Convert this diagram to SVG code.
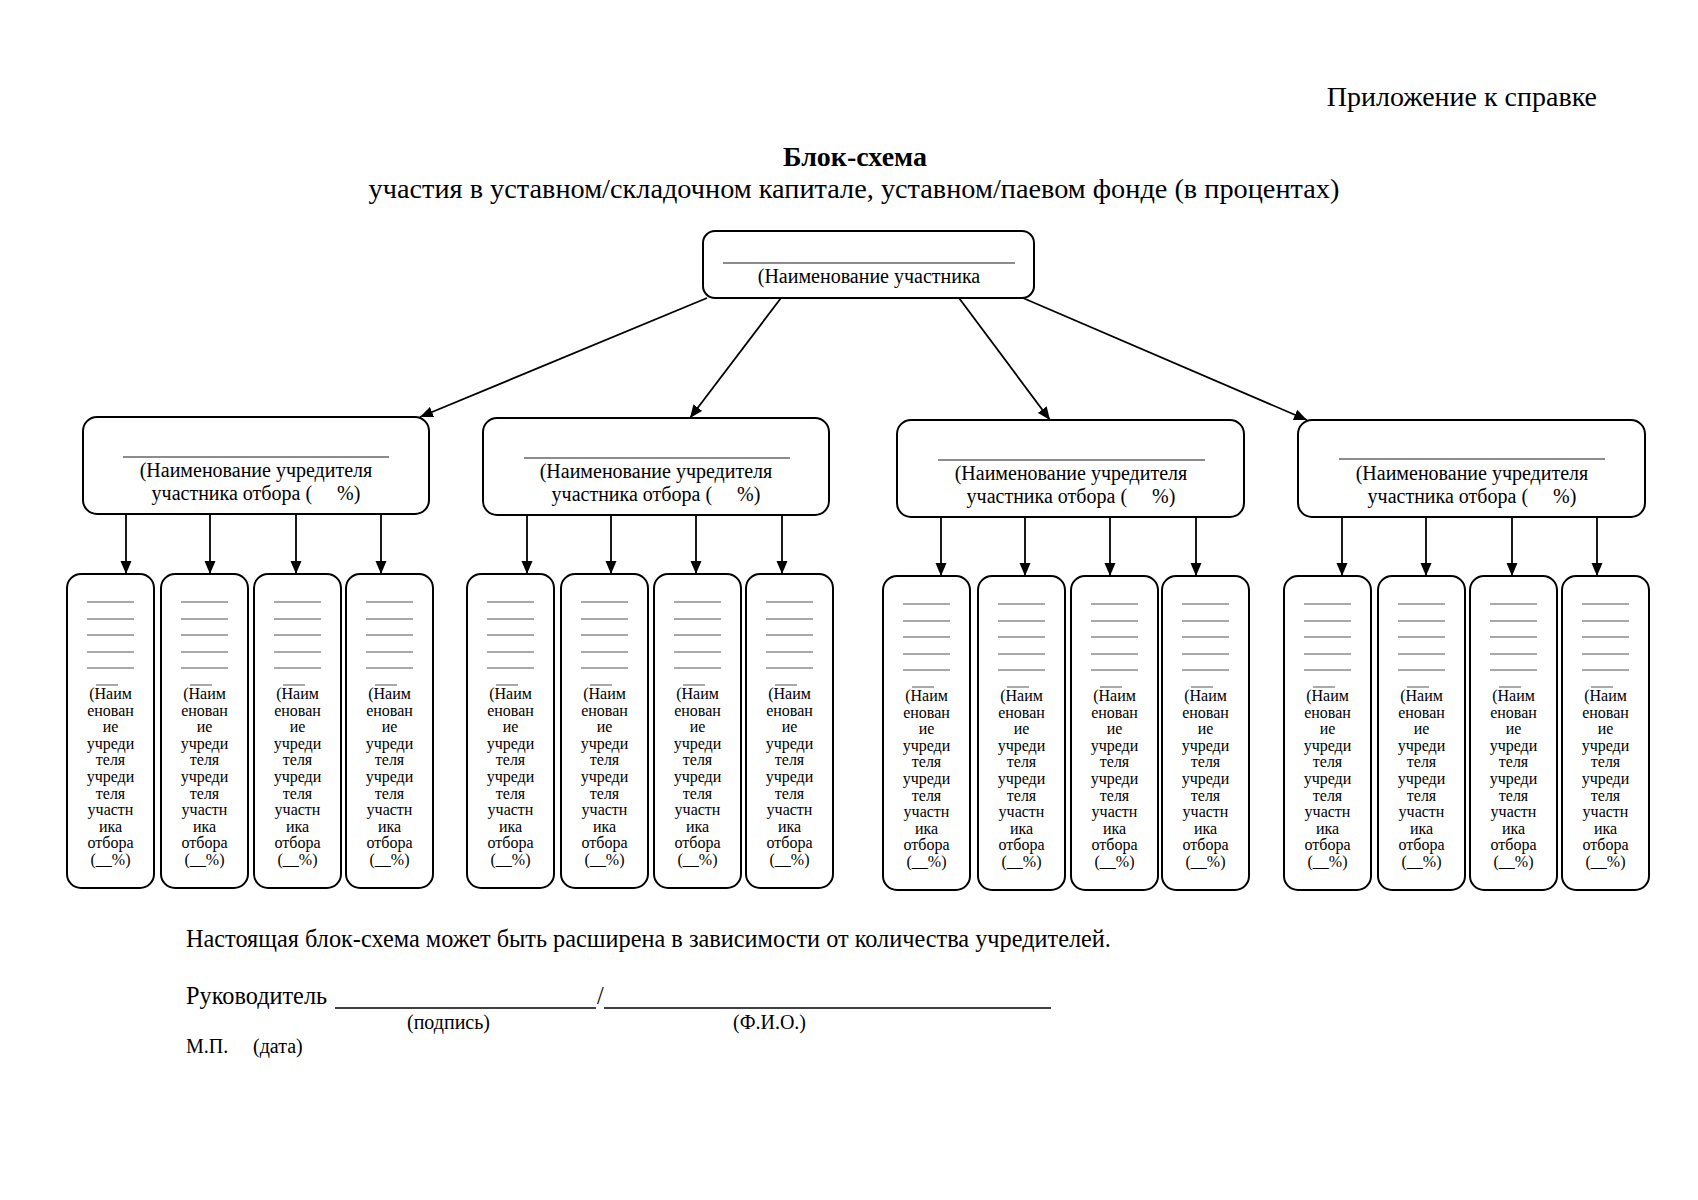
<svg xmlns="http://www.w3.org/2000/svg" width="1698" height="1200" viewBox="0 0 1698 1200">
<style>
text{font-family:"Liberation Serif","Times New Roman",serif;fill:#000}
.box{fill:#fff;stroke:#000;stroke-width:2}
.ln{stroke:#555;stroke-width:1.2;fill:none}
.ul{stroke:#666;stroke-width:1.6}
.mid{font-size:20px;text-anchor:middle}
.leaf{font-size:16px;text-anchor:middle}
.con{stroke:#000;stroke-width:1.8;fill:none;marker-end:url(#ah)}
.doc{font-size:24.3px}
.sm{font-size:20px}
</style>
<defs>
<marker id="ah" markerUnits="userSpaceOnUse" markerWidth="13" markerHeight="12" viewBox="0 0 13 12" refX="13" refY="6" orient="auto">
<path d="M0,0.5 L13,6 L0,11.5 z" fill="#000"/>
</marker>
</defs>
<rect width="1698" height="1200" fill="#fff"/>

<text x="1597" y="106" font-size="28" text-anchor="end">Приложение к справке</text>
<text x="855" y="166" font-size="28" font-weight="bold" text-anchor="middle">Блок-схема</text>
<text x="854" y="198" font-size="28.3" text-anchor="middle">участия в уставном/складочном капитале, уставном/паевом фонде (в процентах)</text>

<g id="connectors">
<line class="con" x1="707" y1="298" x2="420" y2="417"/>
<line class="con" x1="781" y1="298" x2="690" y2="418"/>
<line class="con" x1="959" y1="298" x2="1050" y2="420"/>
<line class="con" x1="1023" y1="298" x2="1307" y2="420"/>
<line class="con" x1="126" y1="514" x2="126" y2="574"/>
<line class="con" x1="210" y1="514" x2="210" y2="574"/>
<line class="con" x1="296" y1="514" x2="296" y2="574"/>
<line class="con" x1="381" y1="514" x2="381" y2="574"/>
<line class="con" x1="527" y1="515" x2="527" y2="574"/>
<line class="con" x1="611" y1="515" x2="611" y2="574"/>
<line class="con" x1="696" y1="515" x2="696" y2="574"/>
<line class="con" x1="782" y1="515" x2="782" y2="574"/>
<line class="con" x1="941" y1="517" x2="941" y2="576"/>
<line class="con" x1="1025" y1="517" x2="1025" y2="576"/>
<line class="con" x1="1110" y1="517" x2="1110" y2="576"/>
<line class="con" x1="1196" y1="517" x2="1196" y2="576"/>
<line class="con" x1="1342" y1="517" x2="1342" y2="576"/>
<line class="con" x1="1426" y1="517" x2="1426" y2="576"/>
<line class="con" x1="1512" y1="517" x2="1512" y2="576"/>
<line class="con" x1="1597" y1="517" x2="1597" y2="576"/>
</g>

<g id="participant">
<rect class="box" x="703" y="231" width="331" height="67" rx="12"/>
<line class="ul" x1="723" y1="263" x2="1015" y2="263" stroke="#888" stroke-width="2"/>
<text class="mid" x="869" y="283">(Наименование участника</text>
</g>

<g id="founder-1">
<rect class="box" x="83" y="417" width="346" height="97" rx="14"/>
<line class="ul" x1="123" y1="457" x2="389" y2="457"/>
<text class="mid" x="256" y="477">(Наименование учредителя</text>
<text class="mid" x="256" y="500">участника отбора (&#160;&#160;&#160;&#160;&#160;%)</text>
</g>
<g id="founder-2">
<rect class="box" x="483" y="418" width="346" height="97" rx="14"/>
<line class="ul" x1="524" y1="458" x2="790" y2="458"/>
<text class="mid" x="656" y="478">(Наименование учредителя</text>
<text class="mid" x="656" y="501">участника отбора (&#160;&#160;&#160;&#160;&#160;%)</text>
</g>
<g id="founder-3">
<rect class="box" x="897" y="420" width="347" height="97" rx="14"/>
<line class="ul" x1="938" y1="460" x2="1205" y2="460"/>
<text class="mid" x="1071" y="480">(Наименование учредителя</text>
<text class="mid" x="1071" y="503">участника отбора (&#160;&#160;&#160;&#160;&#160;%)</text>
</g>
<g id="founder-4">
<rect class="box" x="1298" y="420" width="347" height="97" rx="14"/>
<line class="ul" x1="1339" y1="459" x2="1605" y2="459"/>
<text class="mid" x="1472" y="480">(Наименование учредителя</text>
<text class="mid" x="1472" y="503">участника отбора (&#160;&#160;&#160;&#160;&#160;%)</text>
</g>

<!-- group 1 leaves -->
<g id="leaf-1-1">
<rect class="box" x="67" y="574" width="87" height="314" rx="14"/>
<path class="ln" d="M87,602h47M87,619h47M87,635h47M87,652h47M87,668h47M96,685h22"/>
<text class="leaf" y="699"><tspan x="110.5">(Наим</tspan><tspan x="110.5" dy="16.6">енован</tspan><tspan x="110.5" dy="16.6">ие</tspan><tspan x="110.5" dy="16.6">учреди</tspan><tspan x="110.5" dy="16.6">теля</tspan><tspan x="110.5" dy="16.6">учреди</tspan><tspan x="110.5" dy="16.6">теля</tspan><tspan x="110.5" dy="16.6">участн</tspan><tspan x="110.5" dy="16.6">ика</tspan><tspan x="110.5" dy="16.6">отбора</tspan><tspan x="110.5" dy="16.6">(__%)</tspan></text>
</g>
<g id="leaf-1-2">
<rect class="box" x="161" y="574" width="87" height="314" rx="14"/>
<path class="ln" d="M181,602h47M181,619h47M181,635h47M181,652h47M181,668h47M190,685h22"/>
<text class="leaf" y="699"><tspan x="204.5">(Наим</tspan><tspan x="204.5" dy="16.6">енован</tspan><tspan x="204.5" dy="16.6">ие</tspan><tspan x="204.5" dy="16.6">учреди</tspan><tspan x="204.5" dy="16.6">теля</tspan><tspan x="204.5" dy="16.6">учреди</tspan><tspan x="204.5" dy="16.6">теля</tspan><tspan x="204.5" dy="16.6">участн</tspan><tspan x="204.5" dy="16.6">ика</tspan><tspan x="204.5" dy="16.6">отбора</tspan><tspan x="204.5" dy="16.6">(__%)</tspan></text>
</g>
<g id="leaf-1-3">
<rect class="box" x="254" y="574" width="87" height="314" rx="14"/>
<path class="ln" d="M274,602h47M274,619h47M274,635h47M274,652h47M274,668h47M283,685h22"/>
<text class="leaf" y="699"><tspan x="297.5">(Наим</tspan><tspan x="297.5" dy="16.6">енован</tspan><tspan x="297.5" dy="16.6">ие</tspan><tspan x="297.5" dy="16.6">учреди</tspan><tspan x="297.5" dy="16.6">теля</tspan><tspan x="297.5" dy="16.6">учреди</tspan><tspan x="297.5" dy="16.6">теля</tspan><tspan x="297.5" dy="16.6">участн</tspan><tspan x="297.5" dy="16.6">ика</tspan><tspan x="297.5" dy="16.6">отбора</tspan><tspan x="297.5" dy="16.6">(__%)</tspan></text>
</g>
<g id="leaf-1-4">
<rect class="box" x="346" y="574" width="87" height="314" rx="14"/>
<path class="ln" d="M366,602h47M366,619h47M366,635h47M366,652h47M366,668h47M375,685h22"/>
<text class="leaf" y="699"><tspan x="389.5">(Наим</tspan><tspan x="389.5" dy="16.6">енован</tspan><tspan x="389.5" dy="16.6">ие</tspan><tspan x="389.5" dy="16.6">учреди</tspan><tspan x="389.5" dy="16.6">теля</tspan><tspan x="389.5" dy="16.6">учреди</tspan><tspan x="389.5" dy="16.6">теля</tspan><tspan x="389.5" dy="16.6">участн</tspan><tspan x="389.5" dy="16.6">ика</tspan><tspan x="389.5" dy="16.6">отбора</tspan><tspan x="389.5" dy="16.6">(__%)</tspan></text>
</g>

<!-- group 2 leaves -->
<g id="leaf-2-1">
<rect class="box" x="467" y="574" width="87" height="314" rx="14"/>
<path class="ln" d="M487,602h47M487,619h47M487,635h47M487,652h47M487,668h47M496,685h22"/>
<text class="leaf" y="699"><tspan x="510.5">(Наим</tspan><tspan x="510.5" dy="16.6">енован</tspan><tspan x="510.5" dy="16.6">ие</tspan><tspan x="510.5" dy="16.6">учреди</tspan><tspan x="510.5" dy="16.6">теля</tspan><tspan x="510.5" dy="16.6">учреди</tspan><tspan x="510.5" dy="16.6">теля</tspan><tspan x="510.5" dy="16.6">участн</tspan><tspan x="510.5" dy="16.6">ика</tspan><tspan x="510.5" dy="16.6">отбора</tspan><tspan x="510.5" dy="16.6">(__%)</tspan></text>
</g>
<g id="leaf-2-2">
<rect class="box" x="561" y="574" width="87" height="314" rx="14"/>
<path class="ln" d="M581,602h47M581,619h47M581,635h47M581,652h47M581,668h47M590,685h22"/>
<text class="leaf" y="699"><tspan x="604.5">(Наим</tspan><tspan x="604.5" dy="16.6">енован</tspan><tspan x="604.5" dy="16.6">ие</tspan><tspan x="604.5" dy="16.6">учреди</tspan><tspan x="604.5" dy="16.6">теля</tspan><tspan x="604.5" dy="16.6">учреди</tspan><tspan x="604.5" dy="16.6">теля</tspan><tspan x="604.5" dy="16.6">участн</tspan><tspan x="604.5" dy="16.6">ика</tspan><tspan x="604.5" dy="16.6">отбора</tspan><tspan x="604.5" dy="16.6">(__%)</tspan></text>
</g>
<g id="leaf-2-3">
<rect class="box" x="654" y="574" width="87" height="314" rx="14"/>
<path class="ln" d="M674,602h47M674,619h47M674,635h47M674,652h47M674,668h47M683,685h22"/>
<text class="leaf" y="699"><tspan x="697.5">(Наим</tspan><tspan x="697.5" dy="16.6">енован</tspan><tspan x="697.5" dy="16.6">ие</tspan><tspan x="697.5" dy="16.6">учреди</tspan><tspan x="697.5" dy="16.6">теля</tspan><tspan x="697.5" dy="16.6">учреди</tspan><tspan x="697.5" dy="16.6">теля</tspan><tspan x="697.5" dy="16.6">участн</tspan><tspan x="697.5" dy="16.6">ика</tspan><tspan x="697.5" dy="16.6">отбора</tspan><tspan x="697.5" dy="16.6">(__%)</tspan></text>
</g>
<g id="leaf-2-4">
<rect class="box" x="746" y="574" width="87" height="314" rx="14"/>
<path class="ln" d="M766,602h47M766,619h47M766,635h47M766,652h47M766,668h47M775,685h22"/>
<text class="leaf" y="699"><tspan x="789.5">(Наим</tspan><tspan x="789.5" dy="16.6">енован</tspan><tspan x="789.5" dy="16.6">ие</tspan><tspan x="789.5" dy="16.6">учреди</tspan><tspan x="789.5" dy="16.6">теля</tspan><tspan x="789.5" dy="16.6">учреди</tspan><tspan x="789.5" dy="16.6">теля</tspan><tspan x="789.5" dy="16.6">участн</tspan><tspan x="789.5" dy="16.6">ика</tspan><tspan x="789.5" dy="16.6">отбора</tspan><tspan x="789.5" dy="16.6">(__%)</tspan></text>
</g>

<!-- group 3 leaves -->
<g id="leaf-3-1">
<rect class="box" x="883" y="576" width="87" height="314" rx="14"/>
<path class="ln" d="M903,604h47M903,621h47M903,637h47M903,654h47M903,670h47M912,687h22"/>
<text class="leaf" y="701"><tspan x="926.5">(Наим</tspan><tspan x="926.5" dy="16.6">енован</tspan><tspan x="926.5" dy="16.6">ие</tspan><tspan x="926.5" dy="16.6">учреди</tspan><tspan x="926.5" dy="16.6">теля</tspan><tspan x="926.5" dy="16.6">учреди</tspan><tspan x="926.5" dy="16.6">теля</tspan><tspan x="926.5" dy="16.6">участн</tspan><tspan x="926.5" dy="16.6">ика</tspan><tspan x="926.5" dy="16.6">отбора</tspan><tspan x="926.5" dy="16.6">(__%)</tspan></text>
</g>
<g id="leaf-3-2">
<rect class="box" x="978" y="576" width="87" height="314" rx="14"/>
<path class="ln" d="M998,604h47M998,621h47M998,637h47M998,654h47M998,670h47M1007,687h22"/>
<text class="leaf" y="701"><tspan x="1021.5">(Наим</tspan><tspan x="1021.5" dy="16.6">енован</tspan><tspan x="1021.5" dy="16.6">ие</tspan><tspan x="1021.5" dy="16.6">учреди</tspan><tspan x="1021.5" dy="16.6">теля</tspan><tspan x="1021.5" dy="16.6">учреди</tspan><tspan x="1021.5" dy="16.6">теля</tspan><tspan x="1021.5" dy="16.6">участн</tspan><tspan x="1021.5" dy="16.6">ика</tspan><tspan x="1021.5" dy="16.6">отбора</tspan><tspan x="1021.5" dy="16.6">(__%)</tspan></text>
</g>
<g id="leaf-3-3">
<rect class="box" x="1071" y="576" width="87" height="314" rx="14"/>
<path class="ln" d="M1091,604h47M1091,621h47M1091,637h47M1091,654h47M1091,670h47M1100,687h22"/>
<text class="leaf" y="701"><tspan x="1114.5">(Наим</tspan><tspan x="1114.5" dy="16.6">енован</tspan><tspan x="1114.5" dy="16.6">ие</tspan><tspan x="1114.5" dy="16.6">учреди</tspan><tspan x="1114.5" dy="16.6">теля</tspan><tspan x="1114.5" dy="16.6">учреди</tspan><tspan x="1114.5" dy="16.6">теля</tspan><tspan x="1114.5" dy="16.6">участн</tspan><tspan x="1114.5" dy="16.6">ика</tspan><tspan x="1114.5" dy="16.6">отбора</tspan><tspan x="1114.5" dy="16.6">(__%)</tspan></text>
</g>
<g id="leaf-3-4">
<rect class="box" x="1162" y="576" width="87" height="314" rx="14"/>
<path class="ln" d="M1182,604h47M1182,621h47M1182,637h47M1182,654h47M1182,670h47M1191,687h22"/>
<text class="leaf" y="701"><tspan x="1205.5">(Наим</tspan><tspan x="1205.5" dy="16.6">енован</tspan><tspan x="1205.5" dy="16.6">ие</tspan><tspan x="1205.5" dy="16.6">учреди</tspan><tspan x="1205.5" dy="16.6">теля</tspan><tspan x="1205.5" dy="16.6">учреди</tspan><tspan x="1205.5" dy="16.6">теля</tspan><tspan x="1205.5" dy="16.6">участн</tspan><tspan x="1205.5" dy="16.6">ика</tspan><tspan x="1205.5" dy="16.6">отбора</tspan><tspan x="1205.5" dy="16.6">(__%)</tspan></text>
</g>

<!-- group 4 leaves -->
<g id="leaf-4-1">
<rect class="box" x="1284" y="576" width="87" height="314" rx="14"/>
<path class="ln" d="M1304,604h47M1304,621h47M1304,637h47M1304,654h47M1304,670h47M1313,687h22"/>
<text class="leaf" y="701"><tspan x="1327.5">(Наим</tspan><tspan x="1327.5" dy="16.6">енован</tspan><tspan x="1327.5" dy="16.6">ие</tspan><tspan x="1327.5" dy="16.6">учреди</tspan><tspan x="1327.5" dy="16.6">теля</tspan><tspan x="1327.5" dy="16.6">учреди</tspan><tspan x="1327.5" dy="16.6">теля</tspan><tspan x="1327.5" dy="16.6">участн</tspan><tspan x="1327.5" dy="16.6">ика</tspan><tspan x="1327.5" dy="16.6">отбора</tspan><tspan x="1327.5" dy="16.6">(__%)</tspan></text>
</g>
<g id="leaf-4-2">
<rect class="box" x="1378" y="576" width="87" height="314" rx="14"/>
<path class="ln" d="M1398,604h47M1398,621h47M1398,637h47M1398,654h47M1398,670h47M1407,687h22"/>
<text class="leaf" y="701"><tspan x="1421.5">(Наим</tspan><tspan x="1421.5" dy="16.6">енован</tspan><tspan x="1421.5" dy="16.6">ие</tspan><tspan x="1421.5" dy="16.6">учреди</tspan><tspan x="1421.5" dy="16.6">теля</tspan><tspan x="1421.5" dy="16.6">учреди</tspan><tspan x="1421.5" dy="16.6">теля</tspan><tspan x="1421.5" dy="16.6">участн</tspan><tspan x="1421.5" dy="16.6">ика</tspan><tspan x="1421.5" dy="16.6">отбора</tspan><tspan x="1421.5" dy="16.6">(__%)</tspan></text>
</g>
<g id="leaf-4-3">
<rect class="box" x="1470" y="576" width="87" height="314" rx="14"/>
<path class="ln" d="M1490,604h47M1490,621h47M1490,637h47M1490,654h47M1490,670h47M1499,687h22"/>
<text class="leaf" y="701"><tspan x="1513.5">(Наим</tspan><tspan x="1513.5" dy="16.6">енован</tspan><tspan x="1513.5" dy="16.6">ие</tspan><tspan x="1513.5" dy="16.6">учреди</tspan><tspan x="1513.5" dy="16.6">теля</tspan><tspan x="1513.5" dy="16.6">учреди</tspan><tspan x="1513.5" dy="16.6">теля</tspan><tspan x="1513.5" dy="16.6">участн</tspan><tspan x="1513.5" dy="16.6">ика</tspan><tspan x="1513.5" dy="16.6">отбора</tspan><tspan x="1513.5" dy="16.6">(__%)</tspan></text>
</g>
<g id="leaf-4-4">
<rect class="box" x="1562" y="576" width="87" height="314" rx="14"/>
<path class="ln" d="M1582,604h47M1582,621h47M1582,637h47M1582,654h47M1582,670h47M1591,687h22"/>
<text class="leaf" y="701"><tspan x="1605.5">(Наим</tspan><tspan x="1605.5" dy="16.6">енован</tspan><tspan x="1605.5" dy="16.6">ие</tspan><tspan x="1605.5" dy="16.6">учреди</tspan><tspan x="1605.5" dy="16.6">теля</tspan><tspan x="1605.5" dy="16.6">учреди</tspan><tspan x="1605.5" dy="16.6">теля</tspan><tspan x="1605.5" dy="16.6">участн</tspan><tspan x="1605.5" dy="16.6">ика</tspan><tspan x="1605.5" dy="16.6">отбора</tspan><tspan x="1605.5" dy="16.6">(__%)</tspan></text>
</g>

<g id="footer">
<text class="doc" x="186" y="947">Настоящая блок-схема может быть расширена в зависимости от количества учредителей.</text>
<text class="doc" x="186" y="1004">Руководитель</text>
<line x1="335" y1="1008" x2="596" y2="1008" stroke="#000" stroke-width="1.3"/>
<text class="doc" x="597" y="1004">/</text>
<line x1="604" y1="1008" x2="1051" y2="1008" stroke="#000" stroke-width="1.3"/>
<text class="sm" x="407" y="1029">(подпись)</text>
<text class="sm" x="733" y="1029">(Ф.И.О.)</text>
<text class="sm" x="186" y="1053">М.П.</text>
<text class="sm" x="253" y="1053">(дата)</text>
</g>
</svg>
